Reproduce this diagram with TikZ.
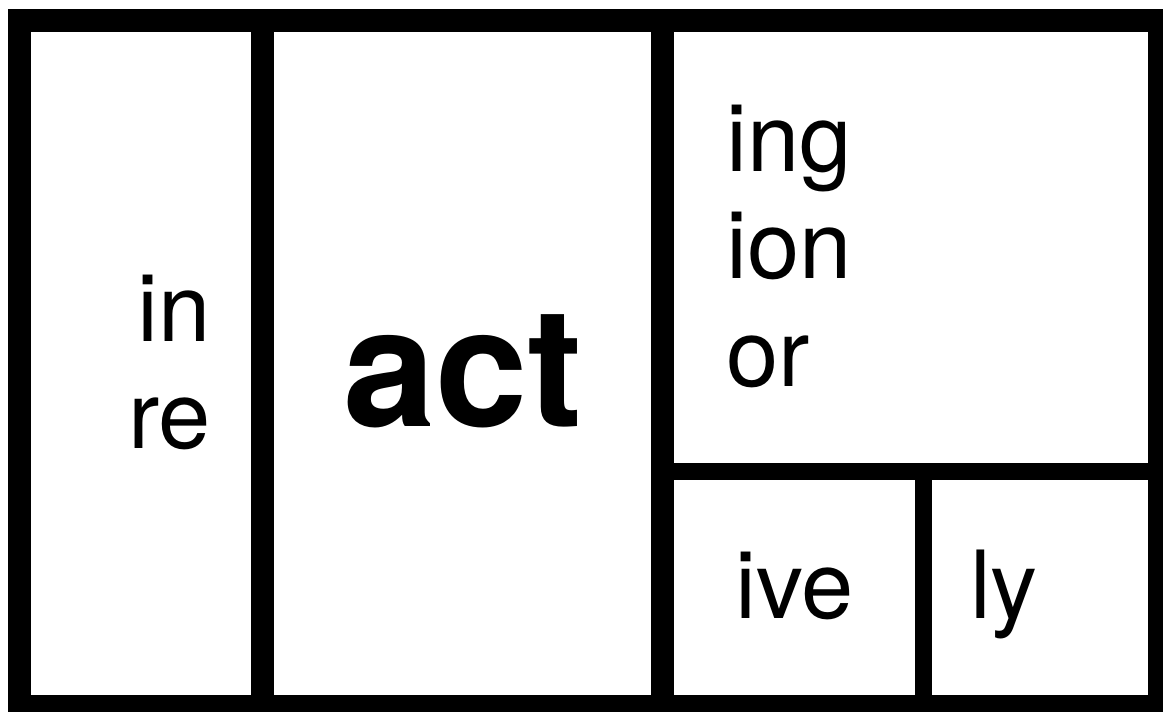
\documentclass[tikz,border=0pt]{standalone}
\usepackage{fontspec}
\setmainfont{TeX Gyre Heros}
\begin{document}
\begin{tikzpicture}[x=1pt,y=-1pt,
    wall/.style={line width=23pt},
    split/.style={line width=17pt},
    affix/.style={font=\fontsize{94}{107}\selectfont,inner sep=0pt},
    root/.style={font=\fontsize{166}{190}\selectfont\bfseries,inner sep=0pt}]
  \useasboundingbox (0,0) rectangle (1163,712);
  % frame and cells
  \draw[wall] (19.5,20.5) rectangle (1159.5,706.5);
  \draw[wall] (262,20.5) -- (262,706.5);
  \draw[wall] (662,20.5) -- (662,706.5);
  \draw[split] (662,471) -- (1159.5,471);
  \draw[split] (923,471) -- (923,706.5);
  % prefixes
  \node[affix,anchor=base east] (in) at (211,341) {in};
  \node[affix,anchor=base east] (re) at (211,448) {re};
  % root
  \node[root,anchor=base] (act) at (463,426) {act};
  % suffixes
  \foreach \s/\y in {ing/171,ion/278,or/386}
    \node[affix,anchor=base west] (\s) at (726,\y) {\s};
  \node[affix,anchor=base west] (ive) at (735,618) {ive};
  \node[affix,anchor=base west] (ly) at (970,618) {ly};
\end{tikzpicture}
\end{document}
